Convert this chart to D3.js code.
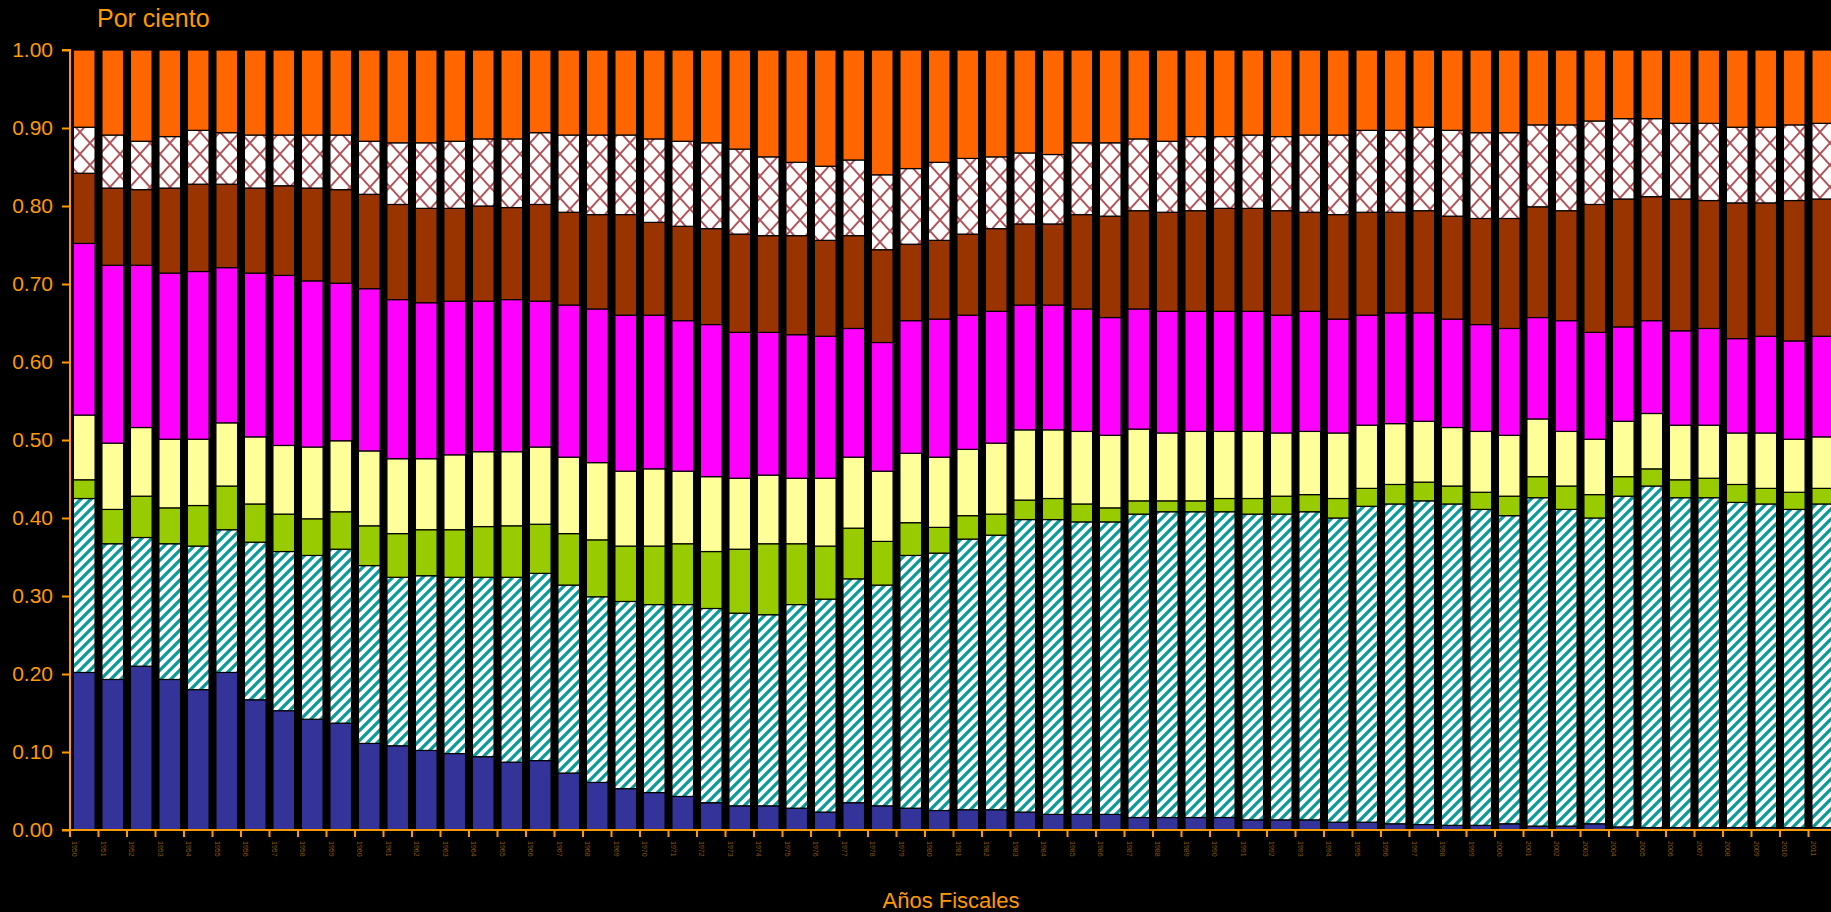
<!DOCTYPE html>
<html><head><meta charset="utf-8">
<script src="https://cdn.jsdelivr.net/npm/d3@7/dist/d3.min.js"></script>
<style>html,body{margin:0;padding:0;background:#000;overflow:hidden}</style>
</head><body>
<svg id="chart" width="1831" height="912"></svg>
<script>
// ---- Data (shares of total, per fiscal year) ----
const categorias = ["1950","1951","1952","1953","1954","1955","1956","1957","1958","1959",
"1960","1961","1962","1963","1964","1965","1966","1967","1968","1969",
"1970","1971","1972","1973","1974","1975","1976","1977","1978","1979",
"1980","1981","1982","1983","1984","1985","1986","1987","1988","1989",
"1990","1991","1992","1993","1994","1995","1996","1997","1998","1999",
"2000","2001","2002","2003","2004","2005","2006","2007","2008","2009",
"2010","2011"];

const azul = [.202,.193,.210,.193,.180,.202,.167,.153,.142,.137,.111,.108,.102,.098,.094,.087,.089,.073,.061,.053,
.048,.043,.035,.031,.031,.028,.023,.035,.031,.028,.025,.026,.026,.023,.020,.020,.020,.016,.016,.016,
.016,.013,.013,.013,.010,.010,.008,.007,.006,.006,.008,.005,.005,.008,.004,.003,.003,.003,.003,.003,.003,.003];
const rayado = [.223,.174,.165,.174,.184,.183,.202,.204,.210,.223,.228,.216,.224,.226,.230,.237,.240,.241,.238,.240,
.241,.246,.249,.247,.245,.261,.273,.287,.283,.324,.330,.347,.352,.375,.378,.375,.375,.389,.392,.392,
.392,.392,.392,.395,.390,.405,.410,.415,.412,.405,.395,.421,.406,.392,.424,.438,.423,.423,.417,.415,.408,.415];
const verde = [.024,.044,.053,.046,.052,.056,.049,.048,.047,.048,.051,.056,.059,.061,.065,.066,.063,.066,.073,.071,
.075,.078,.073,.082,.091,.078,.068,.065,.056,.042,.033,.030,.027,.025,.027,.023,.018,.017,.014,.014,
.017,.020,.023,.022,.025,.023,.025,.024,.023,.022,.025,.027,.030,.030,.025,.022,.023,.025,.023,.020,.022,.020];
const amarillo = [.083,.085,.088,.088,.085,.081,.086,.088,.092,.091,.096,.096,.091,.096,.096,.095,.099,.098,.099,.096,
.099,.093,.096,.091,.088,.084,.087,.091,.090,.089,.090,.085,.091,.090,.088,.093,.093,.092,.087,.089,
.086,.086,.081,.081,.084,.081,.078,.078,.075,.078,.078,.074,.070,.071,.071,.071,.070,.068,.066,.071,.068,.066];
const magenta = [.220,.228,.208,.213,.215,.199,.210,.218,.213,.202,.208,.204,.200,.197,.193,.195,.187,.195,.197,.200,
.197,.193,.195,.187,.183,.184,.182,.165,.165,.170,.177,.172,.169,.160,.160,.157,.151,.154,.156,.154,
.154,.154,.151,.154,.146,.141,.142,.139,.139,.137,.137,.130,.142,.137,.121,.119,.121,.124,.121,.124,.126,.129];
const marron = [.090,.099,.097,.109,.112,.107,.109,.115,.119,.120,.121,.122,.121,.119,.122,.118,.124,.119,.121,.129,
.119,.121,.123,.126,.124,.127,.123,.119,.119,.098,.101,.104,.106,.104,.104,.121,.130,.126,.127,.129,
.132,.132,.134,.127,.134,.132,.129,.131,.132,.136,.141,.142,.141,.164,.164,.159,.169,.164,.174,.171,.180,.176];
const reticulado = [.059,.068,.062,.066,.069,.066,.068,.065,.068,.070,.068,.079,.084,.086,.086,.088,.092,.099,.102,.102,
.107,.109,.110,.109,.101,.094,.095,.097,.096,.097,.100,.097,.092,.091,.089,.092,.094,.092,.091,.095,
.092,.094,.095,.099,.102,.105,.105,.107,.110,.110,.110,.105,.110,.107,.103,.100,.097,.099,.097,.097,.097,.097];
const naranja = [.099,.109,.117,.111,.103,.106,.109,.109,.109,.109,.117,.119,.119,.117,.114,.114,.106,.109,.109,.109,
.114,.117,.119,.127,.137,.144,.149,.141,.160,.152,.144,.139,.137,.132,.134,.119,.119,.114,.117,.111,
.111,.109,.111,.109,.109,.103,.103,.099,.103,.106,.106,.096,.096,.091,.088,.088,.094,.094,.099,.099,.096,.094];

const yTicks = [0,0.1,0.2,0.3,0.4,0.5,0.6,0.7,0.8,0.9,1.0];

// ---- Build table for the stack layout ----
const keys = ["azul","rayado","verde","amarillo","magenta","marron","reticulado","naranja"];
const seriesByKey = {azul, rayado, verde, amarillo, magenta, marron, reticulado, naranja};
const table = categorias.map((c,i)=>{
  const row = {cat:c};
  keys.forEach(k=> row[k] = seriesByKey[k][i]);
  return row;
});
const stacked = d3.stack().keys(keys)(table);

const svg = d3.select("#chart");
const orange = "#FF9900";
svg.append("rect").attr("width",1831).attr("height",912).attr("fill","#000");

const defs = svg.append("defs");
// teal upward-diagonal stripes
const P = 10;
const pS = defs.append("pattern").attr("id","rayas").attr("patternUnits","userSpaceOnUse")
  .attr("width",P).attr("height",P);
pS.append("rect").attr("width",P).attr("height",P).attr("fill","#fff");
pS.append("path").attr("d",`M-2,2 L2,-2 M0,${P} L${P},0 M${P-2},${P+2} L${P+2},${P-2}`)
  .attr("stroke","#0a9a98").attr("stroke-width",3.3).attr("fill","none");
// red diagonal lattice
const pR = defs.append("pattern").attr("id","reticula").attr("patternUnits","userSpaceOnUse")
  .attr("width",20).attr("height",22);
pR.append("rect").attr("width",20).attr("height",22).attr("fill","#fff");
pR.append("path").attr("d","M0,0 L20,22 M20,0 L0,22")
  .attr("stroke","#a5343c").attr("stroke-width",1.9).attr("fill","none").attr("opacity",0.85);

const fills = {
  azul:"#333399", rayado:"url(#rayas)", verde:"#99CC00", amarillo:"#FFFF99",
  magenta:"#FF00FF", marron:"#993300", reticulado:"url(#reticula)", naranja:"#FF6600"
};

const x0 = 70, x1 = 1837;
const x = d3.scaleBand().domain(categorias).range([x0,x1]).paddingInner(0.24).paddingOuter(0.12);
const y = d3.scaleLinear().domain([0,1]).range([830,50]);

// bars
const g = svg.append("g");
g.selectAll("g.serie").data(stacked).join("g").attr("class","serie")
  .attr("fill", d=>fills[d.key])
  .selectAll("rect").data(d=>d).join("rect")
  .attr("x", d=>x(d.data.cat))
  .attr("width", x.bandwidth())
  .attr("y", d=>y(d[1]))
  .attr("height", d=>y(d[0])-y(d[1]))
  .attr("stroke","#000").attr("stroke-width",1.2);

// y axis
const yAxis = svg.append("g").attr("transform",`translate(${x0},0)`)
  .call(d3.axisLeft(y).tickValues(yTicks).tickFormat(d3.format(".2f")).tickSize(8).tickPadding(9));
yAxis.select(".domain").attr("stroke",orange).attr("stroke-width",2).attr("d",`M-8,${y(1)}H0V${y(0)}`);
yAxis.selectAll(".tick line").attr("stroke",orange).attr("stroke-width",2);
yAxis.selectAll(".tick text").attr("fill",orange)
  .style("font-family","'Liberation Sans', Arial, sans-serif").style("font-size","21px");

// x axis (ticks at category boundaries)
const step = x.step();
const bounds = categorias.map(c => x(c) - x.paddingOuter()*step);
const xa = svg.append("g");
xa.append("line").attr("x1",62).attr("x2",1831).attr("y1",y(0)).attr("y2",y(0))
  .attr("stroke",orange).attr("stroke-width",2.2);
xa.selectAll("line.t").data(bounds).join("line").attr("class","t")
  .attr("x1",d=>d).attr("x2",d=>d).attr("y1",y(0)).attr("y2",y(0)+7)
  .attr("stroke",orange).attr("stroke-width",2);
xa.selectAll("text.l").data(categorias).join("text").attr("class","l")
  .attr("transform",(d,i)=>`translate(${bounds[i]+2},${y(0)+11}) rotate(90)`)
  .attr("fill","#8a5814")
  .style("font-family","'Liberation Sans', Arial, sans-serif").style("font-size","7px")
  .text(d=>d);

// titles
svg.append("text").attr("x",97).attr("y",27).attr("fill",orange)
  .style("font-family","'Liberation Sans', Arial, sans-serif").style("font-size","25px")
  .text("Por ciento");
svg.append("text").attr("x",951).attr("y",908).attr("text-anchor","middle").attr("fill",orange)
  .style("font-family","'Liberation Sans', Arial, sans-serif").style("font-size","22px")
  .text("Años Fiscales");
</script>
</body></html>
